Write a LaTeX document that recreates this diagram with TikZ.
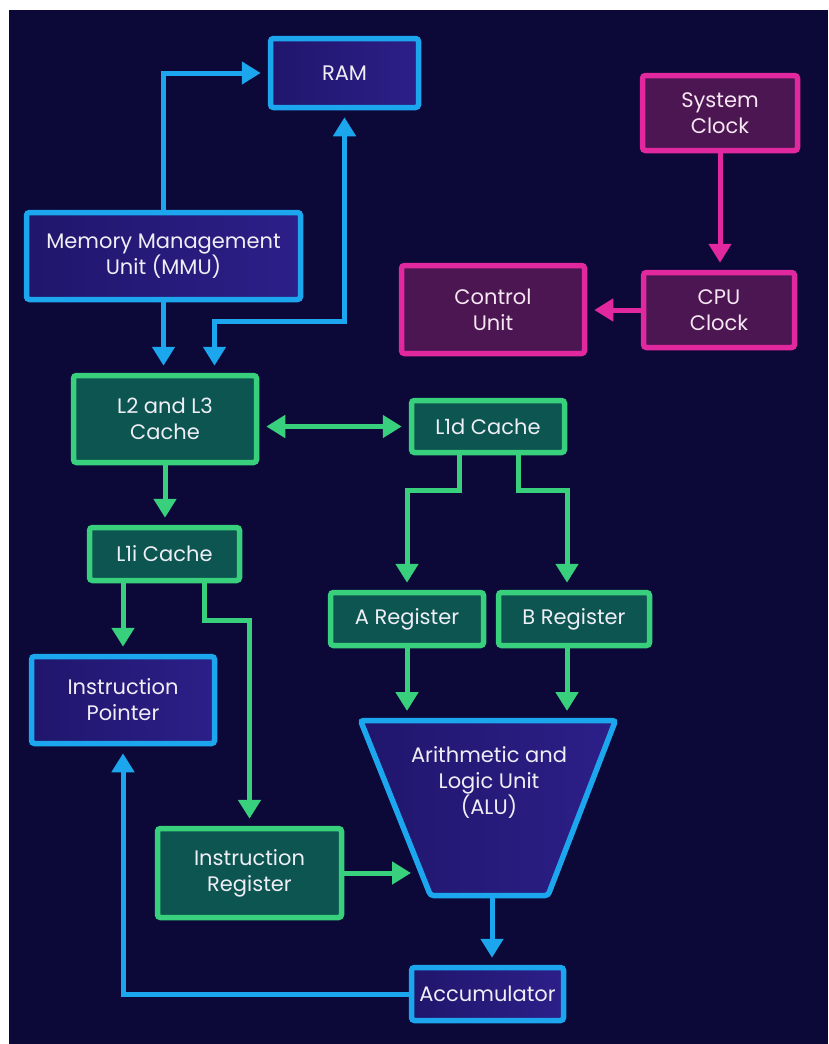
\documentclass[tikz,border=0pt]{standalone}
\usepackage{fontspec}
\setmainfont{Poppins}
\usetikzlibrary{arrows.meta,calc}

\definecolor{bg}{HTML}{0C0838}
\definecolor{blline}{HTML}{1BA6EE}
\definecolor{blfillA}{HTML}{20166C}
\definecolor{blfillB}{HTML}{2C1F88}
\definecolor{grline}{HTML}{38D07C}
\definecolor{grfill}{HTML}{0D5550}
\definecolor{mgline}{HTML}{E2289E}
\definecolor{mgfill}{HTML}{4C1652}
\definecolor{txt}{HTML}{EEEEF6}
\definecolor{mgtxt}{HTML}{F6E6F2}

\tikzset{
  box/.style={draw, line width=5.5pt, rounded corners=3pt, align=center,
    inner sep=0pt, font=\fontsize{21}{26}\selectfont, text=txt},
  bluebox/.style={box, draw=blline, left color=blfillA, right color=blfillB},
  greenbox/.style={box, draw=grline, fill=grfill},
  pinkbox/.style={box, draw=mgline, fill=mgfill, text=mgtxt},
  link/.style={line width=5pt, -{Triangle[width=22pt,length=19pt]}, shorten >=7pt},
  blink/.style={link, draw=blline},
  glink/.style={link, draw=grline},
  plink/.style={link, draw=mgline},
  both/.style={{Triangle[width=22pt,length=19pt]}-{Triangle[width=22pt,length=19pt]}, shorten <=7pt},
}

\begin{document}
\begin{tikzpicture}[x=1pt,y=-1pt]
  % page and dark backdrop
  \fill[white] (0,0) rectangle (828,1044);
  \fill[bg] (9,10) rectangle (828,1044);
  \useasboundingbox (0,0) rectangle (828,1044);

  % memory side
  \node[bluebox, minimum width=148pt, minimum height=69pt] (ram) at (344.5,73) {RAM};
  \node[bluebox, minimum width=274pt, minimum height=87pt] (mmu) at (163.5,256) {Memory Management\\Unit (MMU)};

  % clock and control
  \node[pinkbox, minimum width=155pt, minimum height=75pt] (sysclk) at (720,113) {System\\Clock};
  \node[pinkbox, minimum width=151pt, minimum height=75pt] (cpuclk) at (719,310) {CPU\\Clock};
  \node[pinkbox, minimum width=183pt, minimum height=88pt] (cu) at (493,309.5) {Control\\Unit};

  % caches and registers
  \node[greenbox, minimum width=183pt, minimum height=87pt] (l2) at (165,419) {L2 and L3\\Cache};
  \node[greenbox, minimum width=153pt, minimum height=52pt] (l1d) at (488,426.5) {L1d Cache};
  \node[greenbox, minimum width=150pt, minimum height=53pt] (l1i) at (164.5,554) {L1i Cache};
  \node[greenbox, minimum width=153pt, minimum height=53pt] (areg) at (407,619) {A Register};
  \node[greenbox, minimum width=151pt, minimum height=53pt] (breg) at (574,619) {B Register};
  \node[bluebox, minimum width=183pt, minimum height=87pt] (ip) at (123,700) {Instruction\\Pointer};
  \node[greenbox, minimum width=184pt, minimum height=89pt] (ir) at (249.5,873) {Instruction\\Register};
  \node[bluebox, minimum width=152pt, minimum height=53pt] (acc) at (487.5,994) {Accumulator};

  % ALU trapezium
  \draw[line width=5.5pt, draw=blline, left color=blfillA, right color=blfillB, rounded corners=3pt]
    (360.5,720.5) -- (615.5,720.5) -- (548,895.5) -- (430.5,895.5) -- cycle;
  \node[align=center, font=\fontsize{21}{26}\selectfont, text=txt] (alu) at (489,782)
    {Arithmetic and\\Logic Unit\\(ALU)};
  \coordinate (aluA) at (407,718);
  \coordinate (aluB) at (567,718);
  \coordinate (aluL) at (418,873);
  \coordinate (aluS) at (492,898);

  % memory connectors
  \draw[blink] (mmu.north) |- (ram.west);
  \draw[blink] (mmu.south) -- (mmu.south |- l2.north);
  \draw[blink, both] (ram.south) |- ($(l2.north)+(49.5,-51)$) -- ([xshift=49.5pt]l2.north);

  % clock connectors
  \draw[plink] (sysclk.south) -- (sysclk.south |- cpuclk.north);
  \draw[plink] (cpuclk.west) -- (cpuclk.west -| cu.east);

  % cache connectors
  \draw[glink, both] (l2.east |- l1d.west) -- (l1d.west);
  \draw[glink] (l2.south) -- (l2.south |- l1i.north);
  \draw[glink] ([xshift=-29pt]l1d.south) -- ++(0,35) -| (areg.north);
  \draw[glink] ([xshift=30pt]l1d.south) -- ++(0,35) -| ([xshift=-7pt]breg.north);
  \draw[glink] (l1i.south -| ip.north) -- (ip.north);
  \draw[glink] ([xshift=40pt]l1i.south) -- ++(0,37) -| (ir.north);

  % into and out of the ALU
  \draw[glink] (areg.south) -- (aluA);
  \draw[glink] ([xshift=-7pt]breg.south) -- (aluB);
  \draw[glink] (ir.east |- aluL) -- (aluL);
  \draw[blink] (aluS) -- (aluS |- acc.north);
  \draw[blink] (acc.west) -| (ip.south);
\end{tikzpicture}
\end{document}
